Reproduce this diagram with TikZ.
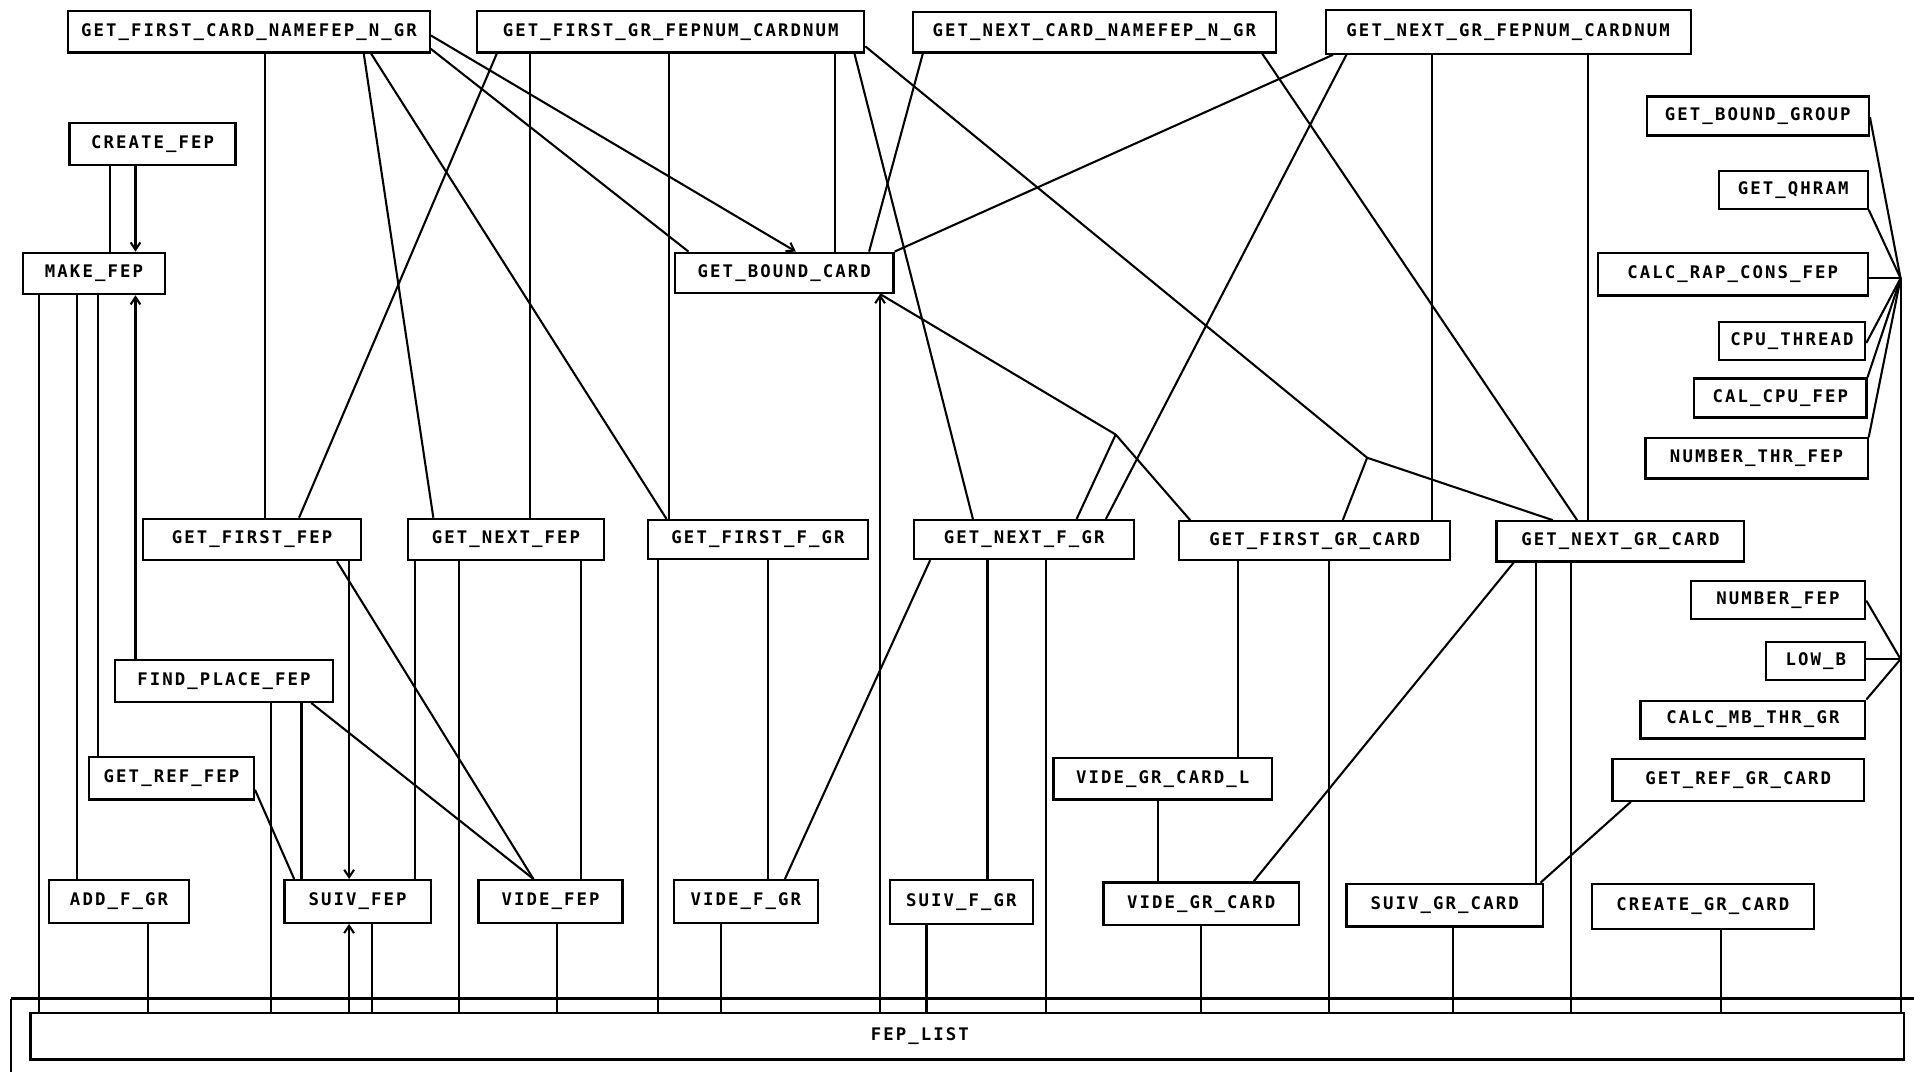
\documentclass[tikz,border=0pt]{standalone}
\usepackage{fontspec}
\usetikzlibrary{arrows.meta}
\newfontfamily\boxfont{DejaVu Sans Mono}[LetterSpace=12]
\newcommand\mkbox[6]{%
  \pgfmathsetmacro\bw{(#4-#2)*0.5}%
  \pgfmathsetmacro\bh{(#5-#3)*0.5}%
  \node[fbox,minimum width=\bw pt,minimum height=\bh pt] (#1) at ({(#2+#4)/2},{(#3+#5)/2}) {#6};}
\begin{document}
\begin{tikzpicture}[x=0.5pt,y=-0.5pt,
  fbox/.style={draw,line width=0.9pt,inner sep=0pt,font=\boxfont\bfseries\fontsize{7.1}{8}\selectfont},
  conn/.style={line width=0.85pt},
  arr/.style={conn,-{Straight Barb[length=3pt,width=4pt]}}]
\useasboundingbox[fill=white] (0,0) rectangle (1568,878);
% boxes
\mkbox{gfc}{56}{9}{352}{43}{GET\_FIRST\_CARD\_NAMEFEP\_N\_GR}
\mkbox{gfg}{391}{9}{708}{43}{GET\_FIRST\_GR\_FEPNUM\_CARDNUM}
\mkbox{gnc}{748}{10}{1045}{43}{GET\_NEXT\_CARD\_NAMEFEP\_N\_GR}
\mkbox{gng}{1086}{8}{1385}{44}{GET\_NEXT\_GR\_FEPNUM\_CARDNUM}
\mkbox{cfep}{57}{101}{193}{135}{CREATE\_FEP}
\mkbox{mfep}{19}{207}{135}{241}{MAKE\_FEP}
\mkbox{gbc}{553}{207}{732}{240}{GET\_BOUND\_CARD}
\mkbox{gbg}{1349}{79}{1531}{111}{GET\_BOUND\_GROUP}
\mkbox{gqh}{1408}{140}{1530}{171}{GET\_QHRAM}
\mkbox{crc}{1309}{207}{1530}{242}{CALC\_RAP\_CONS\_FEP}
\mkbox{cpu}{1408}{264}{1528}{295}{CPU\_THREAD}
\mkbox{ccf}{1388}{310}{1529}{342}{CAL\_CPU\_FEP}
\mkbox{ntf}{1348}{359}{1530}{392}{NUMBER\_THR\_FEP}
\mkbox{gff}{117}{425}{296}{459}{GET\_FIRST\_FEP}
\mkbox{gnf}{334}{425}{495}{459}{GET\_NEXT\_FEP}
\mkbox{gffg}{531}{426}{711}{458}{GET\_FIRST\_F\_GR}
\mkbox{gnfg}{749}{426}{929}{458}{GET\_NEXT\_F\_GR}
\mkbox{gfgc}{966}{427}{1188}{459}{GET\_FIRST\_GR\_CARD}
\mkbox{gngc}{1226}{427}{1429}{460}{GET\_NEXT\_GR\_CARD}
\mkbox{nfep}{1385}{476}{1528}{507}{NUMBER\_FEP}
\mkbox{lowb}{1447}{526}{1528}{557}{LOW\_B}
\mkbox{cmb}{1344}{574}{1528}{605}{CALC\_MB\_THR\_GR}
\mkbox{fpf}{94}{541}{273}{575}{FIND\_PLACE\_FEP}
\mkbox{grf}{73}{620}{208}{655}{GET\_REF\_FEP}
\mkbox{vgcl}{863}{621}{1042}{655}{VIDE\_GR\_CARD\_L}
\mkbox{grgc}{1321}{622}{1527}{656}{GET\_REF\_GR\_CARD}
\mkbox{afg}{40}{721}{155}{756}{ADD\_F\_GR}
\mkbox{sfep}{233}{721}{353}{756}{SUIV\_FEP}
\mkbox{vfep}{392}{721}{510}{756}{VIDE\_FEP}
\mkbox{vfg}{552}{721}{670}{756}{VIDE\_F\_GR}
\mkbox{sfg}{729}{721}{846}{757}{SUIV\_F\_GR}
\mkbox{vgc}{904}{723}{1064}{758}{VIDE\_GR\_CARD}
\mkbox{sgc}{1103}{724}{1264}{759}{SUIV\_GR\_CARD}
\mkbox{cgc}{1304}{724}{1486}{761}{CREATE\_GR\_CARD}
\mkbox{fep}{25}{830}{1560}{868}{FEP\_LIST\hspace*{39pt}}
% frame lines
\draw[conn] (9,818) -- (1568,818);
\draw[conn] (9,818) -- (9,878);
% junctions
\coordinate (jA) at (914,356);
\coordinate (jB) at (1120,375);
\coordinate (j1) at (1557,228);
\coordinate (j2) at (1557,540);
% top row connectors
\draw[conn] (gfc.south -| 217,0) -- (gff.north -| 217,0);
\draw[conn] (gfc.south -| 298,0) -- (gnf.north -| 355,0);
\draw[conn] (gfc.south -| 304,0) -- (gffg.north -| 546,0);
\draw[arr] (gfc.east |- 0,29) -- (gbc.north -| 652,0);
\draw[conn] (gfc.east |- 0,40) -- (gbc.north -| 564,0);
\draw[conn] (gfg.south -| 407,0) -- (gff.north -| 245,0);
\draw[conn] (gfg.south -| 434,0) -- (gnf.north -| 434,0);
\draw[conn] (gfg.south -| 548,0) -- (gffg.north -| 548,0);
\draw[conn] (gfg.south -| 684,0) -- (gbc.north -| 684,0);
\draw[conn] (gfg.south -| 700,0) -- (gnfg.north -| 797,0);
\draw[conn] (gfg.east |- 0,38) -- (jB);
\draw[conn] (gnc.south -| 756,0) -- (gbc.north -| 712,0);
\draw[conn] (gnc.south -| 1034,0) -- (gngc.north -| 1292,0);
\draw[conn] (gng.south -| 1092,0) -- (gbc.north east);
\draw[conn] (gng.south -| 1103,0) -- (gnfg.north -| 906,0);
\draw[conn] (gng.south -| 1173,0) -- (gfgc.north -| 1173,0);
\draw[conn] (gng.south -| 1301,0) -- (gngc.north -| 1301,0);
% junction connectors
\draw[conn] (jA) -- (gbc.south -| 721,0);
\draw[conn] (jA) -- (gnfg.north -| 882,0);
\draw[conn] (jA) -- (gfgc.north -| 975,0);
\draw[conn] (jB) -- (gfgc.north -| 1100,0);
\draw[conn] (jB) -- (gngc.north -| 1272,0);
\draw[arr] (fep.north -| 721,0) -- (gbc.south -| 721,0);
% left part
\draw[conn] (cfep.south -| 90,0) -- (mfep.north -| 90,0);
\draw[arr] (cfep.south -| 111,0) -- (mfep.north -| 111,0);
\draw[conn] (mfep.south -| 32,0) -- (fep.north -| 32,0);
\draw[conn] (mfep.south -| 63,0) -- (afg.north -| 63,0);
\draw[conn] (mfep.south -| 80,0) -- (grf.north -| 80,0);
\draw[arr] (fpf.north -| 111,0) -- (mfep.south -| 111,0);
\draw[conn] (fpf.south -| 222,0) -- (fep.north -| 222,0);
\draw[conn] (fpf.south -| 247,0) -- (sfep.north -| 247,0);
\draw[conn] (fpf.south -| 255,0) -- (vfep.north -| 437,0);
\draw[conn] (grf.east |- 0,647) -- (sfep.north -| 241,0);
\draw[conn] (gff.south -| 276,0) -- (vfep.north -| 437,0);
\draw[arr] (gff.south -| 286,0) -- (sfep.north -| 286,0);
\draw[conn] (gnf.south -| 340,0) -- (sfep.north -| 340,0);
\draw[conn] (gnf.south -| 376,0) -- (fep.north -| 376,0);
\draw[conn] (gnf.south -| 476,0) -- (vfep.north -| 476,0);
\draw[conn] (afg.south -| 121,0) -- (fep.north -| 121,0);
\draw[arr] (fep.north -| 286,0) -- (sfep.south -| 286,0);
\draw[conn] (sfep.south -| 305,0) -- (fep.north -| 305,0);
\draw[conn] (vfep.south -| 456,0) -- (fep.north -| 456,0);
% middle part
\draw[conn] (gffg.south -| 539,0) -- (fep.north -| 539,0);
\draw[conn] (gffg.south -| 629,0) -- (vfg.north -| 629,0);
\draw[conn] (gnfg.south -| 762,0) -- (vfg.north -| 643,0);
\draw[conn] (gnfg.south -| 809,0) -- (sfg.north -| 809,0);
\draw[conn] (gnfg.south -| 857,0) -- (fep.north -| 857,0);
\draw[conn] (vfg.south -| 591,0) -- (fep.north -| 591,0);
\draw[conn] (sfg.south -| 759,0) -- (fep.north -| 759,0);
\draw[conn] (gfgc.south -| 1014,0) -- (vgcl.north -| 1014,0);
\draw[conn] (gfgc.south -| 1089,0) -- (fep.north -| 1089,0);
\draw[conn] (vgcl.south -| 949,0) -- (vgc.north -| 949,0);
\draw[conn] (vgc.south -| 984,0) -- (fep.north -| 984,0);
\draw[conn] (gngc.south -| 1240,0) -- (vgc.north -| 1027,0);
\draw[conn] (gngc.south -| 1258,0) -- (sgc.north -| 1258,0);
\draw[conn] (gngc.south -| 1287,0) -- (fep.north -| 1287,0);
\draw[conn] (grgc.south -| 1336,0) -- (sgc.north -| 1262,0);
\draw[conn] (sgc.south -| 1190,0) -- (fep.north -| 1190,0);
\draw[conn] (cgc.south -| 1410,0) -- (fep.north -| 1410,0);
% right fans
\draw[conn] (gbg.east |- 0,96) -- (j1);
\draw[conn] (gqh.south east) -- (j1);
\draw[conn] (crc.east |- j1) -- (j1);
\draw[conn] (cpu.east |- 0,281) -- (j1);
\draw[conn] (ccf.north east) -- (j1);
\draw[conn] (ntf.north east) -- (j1);
\draw[conn] (j1) -- (fep.north -| j1);
\draw[conn] (nfep.east |- 0,492) -- (j2);
\draw[conn] (lowb.east |- j2) -- (j2);
\draw[conn] (cmb.north east) -- (j2);
\end{tikzpicture}
\end{document}
